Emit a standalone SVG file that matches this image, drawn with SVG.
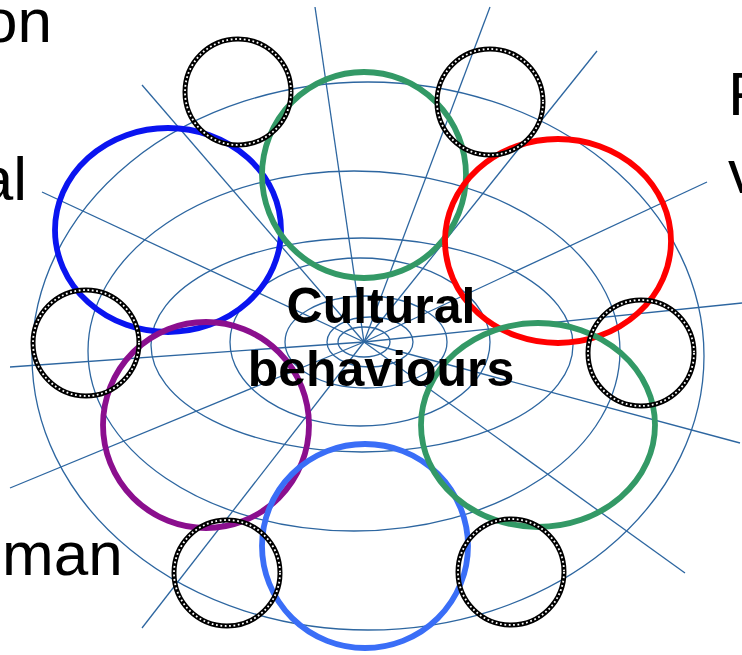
<svg xmlns="http://www.w3.org/2000/svg" width="742" height="655" viewBox="0 0 742 655">
<style>
.grid{fill:none;stroke:#2d66a0;stroke-width:1.3}
.ring{fill:none;stroke-width:5.8}
.bead{fill:none;stroke:#000;stroke-width:5}
.hole{fill:none;stroke:#fff;stroke-width:1.8;stroke-dasharray:1.8 2.6}
.lbl{font-family:"Liberation Sans",Arial,sans-serif;font-size:62px;fill:#000}
.ctr{font-family:"Liberation Sans",Arial,sans-serif;font-size:50px;font-weight:bold;fill:#000;text-anchor:middle}
</style>
<rect width="742" height="655" fill="#fff"/>
<g id="connectors">
<line class="grid" x1="315" y1="7" x2="364" y2="342"/>
<line class="grid" x1="490" y1="7" x2="364" y2="342"/>
<line class="grid" x1="597" y1="51" x2="364" y2="342"/>
<line class="grid" x1="707" y1="182" x2="364" y2="342"/>
<line class="grid" x1="742" y1="303" x2="364" y2="342"/>
<line class="grid" x1="740" y1="443" x2="364" y2="342"/>
<line class="grid" x1="685" y1="573" x2="364" y2="342"/>
<line class="grid" x1="142" y1="628" x2="364" y2="342"/>
<line class="grid" x1="10" y1="488" x2="364" y2="342"/>
<line class="grid" x1="10" y1="367" x2="364" y2="342"/>
<line class="grid" x1="42" y1="192" x2="364" y2="342"/>
<line class="grid" x1="142" y1="85" x2="364" y2="342"/>
<ellipse class="grid" cx="368" cy="356" rx="336" ry="274"/>
<ellipse class="grid" cx="354" cy="351" rx="266" ry="180"/>
<ellipse class="grid" cx="362" cy="345" rx="211" ry="107"/>
<ellipse class="grid" cx="360" cy="342" rx="130" ry="84"/>
<ellipse class="grid" cx="366" cy="342" rx="81" ry="46"/>
<ellipse class="grid" cx="370" cy="342" rx="43" ry="25"/>
<ellipse class="grid" cx="364" cy="342" rx="26" ry="15" fill="#fff"/>
</g>
<g id="blue"><ellipse class="ring" stroke="#0a14f0" cx="168" cy="230" rx="113" ry="102"/></g>
<g id="green-top"><ellipse class="ring" stroke="#339966" cx="364" cy="175" rx="102" ry="103"/></g>
<g id="red"><ellipse class="ring" stroke="#ff0000" cx="558" cy="241" rx="113" ry="102"/></g>
<g id="purple"><ellipse class="ring" stroke="#8b0f8e" cx="206" cy="425" rx="103" ry="103"/></g>
<g id="lightblue"><ellipse class="ring" stroke="#3a6ef7" cx="365" cy="546" rx="103" ry="102"/></g>
<g id="green-right"><ellipse class="ring" stroke="#339966" cx="538" cy="425" rx="117" ry="102"/></g>
<g id="black1"><circle class="bead" cx="238" cy="92" r="53"/><circle class="hole" cx="238" cy="92" r="53"/></g>
<g id="black2"><circle class="bead" cx="490" cy="102" r="53"/><circle class="hole" cx="490" cy="102" r="53"/></g>
<g id="black3"><circle class="bead" cx="86" cy="343" r="53"/><circle class="hole" cx="86" cy="343" r="53"/></g>
<g id="black4"><circle class="bead" cx="641" cy="353" r="53"/><circle class="hole" cx="641" cy="353" r="53"/></g>
<g id="black5"><circle class="bead" cx="227" cy="573" r="53"/><circle class="hole" cx="227" cy="573" r="53"/></g>
<g id="black6"><circle class="bead" cx="511" cy="572" r="53"/><circle class="hole" cx="511" cy="572" r="53"/></g>
<g id="center-label">
<text class="ctr" x="381" y="323">Cultural</text>
<text class="ctr" x="381" y="386">behaviours</text>
</g>
<g id="side-labels">
<text class="lbl" x="52" y="42" text-anchor="end">on</text>
<text class="lbl" x="27" y="200" text-anchor="end">al</text>
<text class="lbl" x="2" y="575">man</text>
<text class="lbl" x="728" y="115">F</text>
<text class="lbl" x="728" y="193">v</text>
</g>
</svg>
